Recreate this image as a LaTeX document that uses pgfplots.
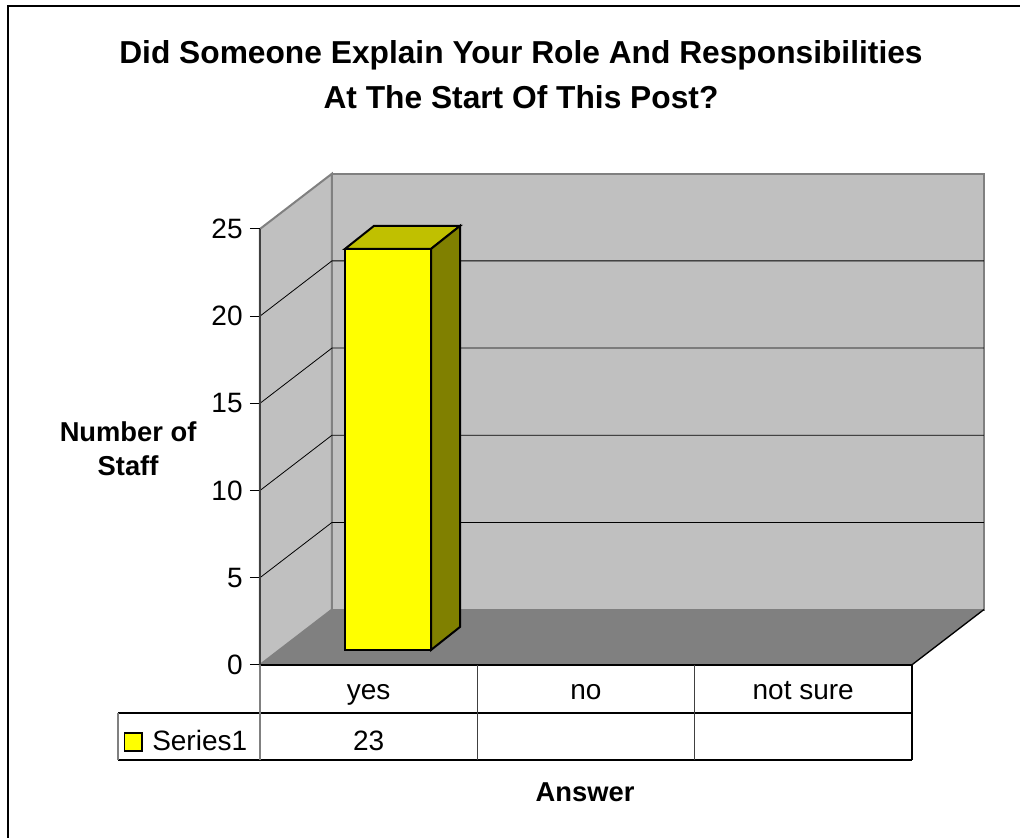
\documentclass[border=0pt]{standalone}
\usepackage{fontspec}
\setmainfont{Liberation Sans}
\usepackage{pgfplots}
\pgfplotsset{compat=1.18}
\definecolor{wall}{HTML}{C0C0C0}
\definecolor{floorc}{HTML}{808080}
\definecolor{edge}{HTML}{808080}
\definecolor{barfront}{HTML}{FFFF00}
\definecolor{bartop}{HTML}{C0C000}
\definecolor{barside}{HTML}{808000}
\newcommand{\lbl}{\fontsize{21}{24}\selectfont}
\begin{document}
\begin{tikzpicture}
\begin{axis}[
    x=163pt, y=13.08pt,
    xmin=0, xmax=3, ymin=0, ymax=25,
    axis x line=none, axis y line*=left,
    axis on top,
    clip=false,
    xtick=\empty,
    ytick={0,5,10,15,20,25},
    tick align=outside,
    major tick length=7.5pt,
    y axis line style={draw=black!75, line width=1.1pt},
    every tick/.style={black, line width=0.7pt},
    yticklabel style={font=\lbl, xshift=-2pt},
    /pgf/number format/assume math mode=true,
]
% walls and floor
\filldraw[fill=wall, draw=edge, line width=1.5pt] (axis cs:0.3313,3.17) rectangle (axis cs:3.3313,28.17);
\filldraw[fill=wall, draw=edge, line width=1.5pt] (axis cs:0,0) -- (axis cs:0.3313,3.17) -- (axis cs:0.3313,28.17) -- (axis cs:0,25) -- cycle;
\fill[floorc] (axis cs:0,0) -- (axis cs:3,0) -- (axis cs:3.3313,3.17) -- (axis cs:0.3313,3.17) -- cycle;
\draw[black, line width=1pt] (axis cs:3,0) -- (axis cs:3.3313,3.17);
% grid lines
\draw[black, line width=0.6pt] (axis cs:0,5) -- (axis cs:0.3313,8.17) -- (axis cs:3.3313,8.17);
\draw[black, line width=0.6pt] (axis cs:0,10) -- (axis cs:0.3313,13.17) -- (axis cs:3.3313,13.17);
\draw[black, line width=0.6pt] (axis cs:0,15) -- (axis cs:0.3313,18.17) -- (axis cs:3.3313,18.17);
\draw[black, line width=0.6pt] (axis cs:0,20) -- (axis cs:0.3313,23.17) -- (axis cs:3.3313,23.17);

% the bar: front face, top and side, set back into the depth
\addplot[ybar, bar width=0.396, fill=barfront, draw=black, line width=1.5pt,
    xshift=14.6pt, yshift=11.25pt] coordinates {(0.5,23)};
\addplot[fill=bartop, draw=black, line width=1.5pt, xshift=14.6pt, yshift=11.25pt]
    coordinates {(0.302,23) (0.698,23) (0.8315,24.32) (0.4355,24.32)} -- cycle;
\addplot[fill=barside, draw=black, line width=1.5pt, xshift=14.6pt, yshift=11.25pt]
    coordinates {(0.698,0) (0.698,23) (0.8315,24.32) (0.8315,1.32)} -- cycle;

% data table
\draw[black, line width=1pt] (axis cs:0,0) -- (axis cs:3,0);
\draw[black, line width=1pt] (axis cs:-0.653,-2.752) -- (axis cs:3,-2.752);
\draw[black, line width=1pt] (axis cs:-0.653,-5.447) -- (axis cs:3,-5.447);
\draw[edge, line width=1.2pt] (axis cs:0,0) -- (axis cs:0,-5.447);
\draw[edge, line width=1.2pt] (axis cs:-0.653,-2.752) -- (axis cs:-0.653,-5.447);
\draw[black!75, line width=1pt] (axis cs:1,0) -- (axis cs:1,-5.447);
\draw[black!75, line width=1pt] (axis cs:2,0) -- (axis cs:2,-5.447);
\draw[black, line width=1pt] (axis cs:3,0) -- (axis cs:3,-5.447);
\node[font=\lbl, anchor=base] at (axis cs:0.5,-2.0) {yes};
\node[font=\lbl, anchor=base] at (axis cs:1.5,-2.0) {no};
\node[font=\lbl, anchor=base] at (axis cs:2.5,-2.0) {not sure};
\node[font=\lbl, anchor=base] at (axis cs:0.5,-4.9) {23};
\filldraw[fill=barfront, draw=black, line width=1pt] (axis cs:-0.622,-3.9) rectangle (axis cs:-0.543,-4.93);
\node[font=\lbl, anchor=base west, inner sep=0pt] at (axis cs:-0.497,-4.9) {Series1};

% titles
\node[font=\bfseries\fontsize{23.8}{33.75}\selectfont, align=center] at (axis cs:1.201,33.86)
    {Did Someone Explain Your Role And Responsibilities\\At The Start Of This Post?};
\node[font=\bfseries\fontsize{20.5}{25.5}\selectfont, align=center] at (axis cs:-0.607,12.39)
    {Number of\\Staff};
\node[font=\bfseries\fontsize{20.5}{24}\selectfont] at (axis cs:1.496,-7.28) {Answer};

% frame (left and top edges)
\draw[black, line width=1.2pt] (axis cs:-1.16,-9.92) -- (axis cs:-1.16,37.79) -- (axis cs:3.4976,37.79);
\coordinate (bl) at (axis cs:-1.1965,-9.92);
\coordinate (tr) at (axis cs:3.4976,38.13);
\end{axis}
\pgfresetboundingbox
\useasboundingbox (bl) rectangle (tr);
\end{tikzpicture}
\end{document}
